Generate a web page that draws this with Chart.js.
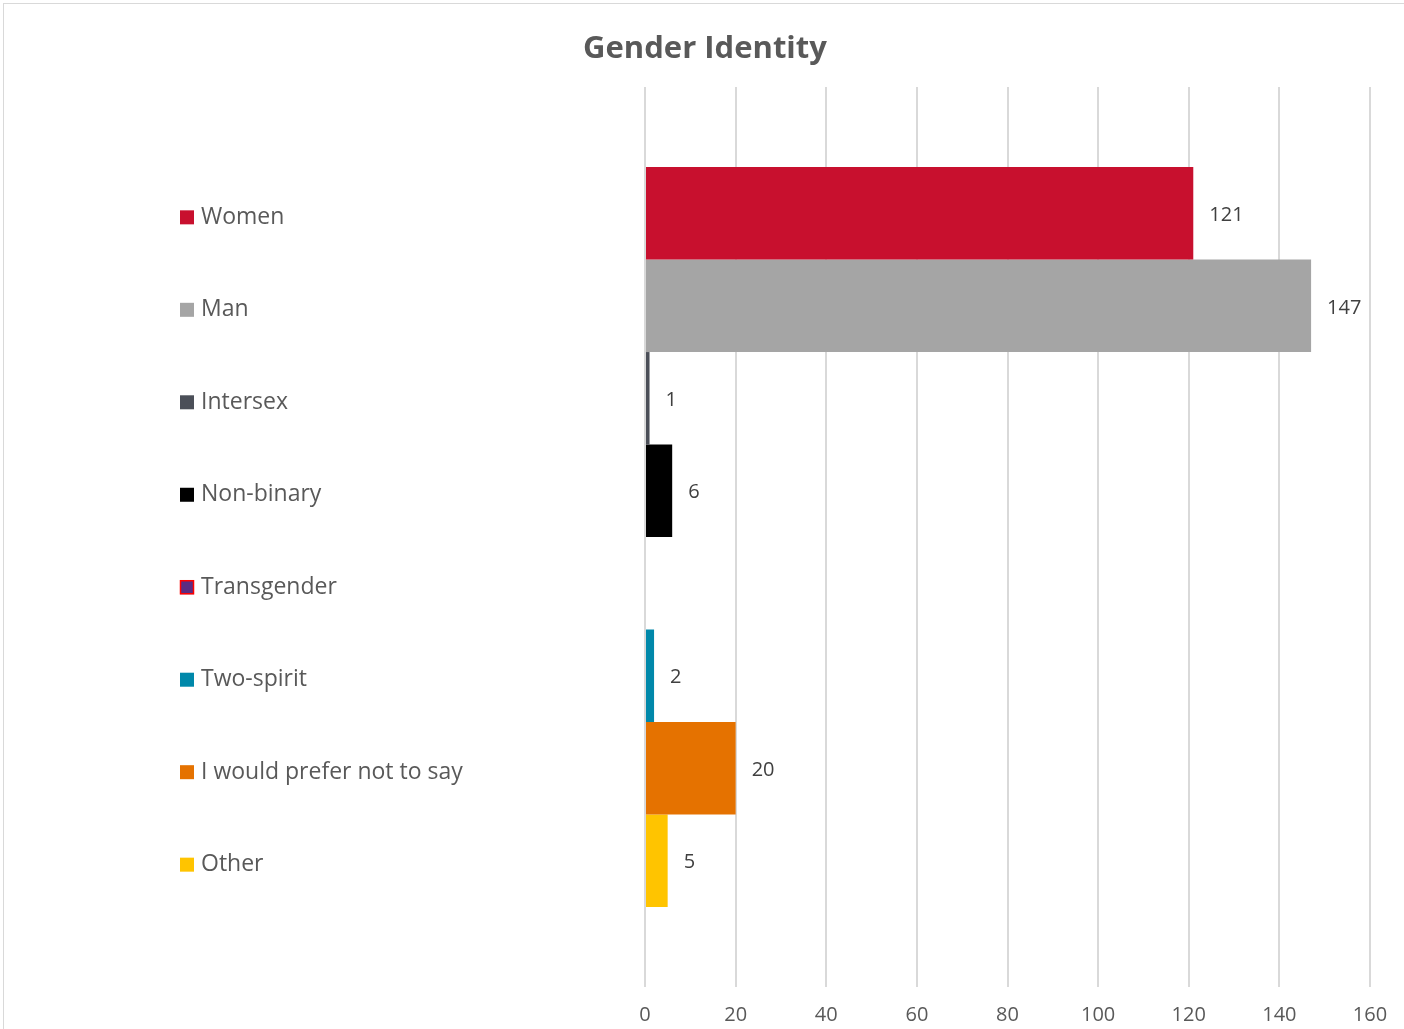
<!DOCTYPE html>
<html>
<head>
<meta charset="utf-8">
<title>Gender Identity</title>
<script src="https://cdn.jsdelivr.net/npm/chart.js@4.4.0/dist/chart.umd.min.js"></script>
<style>
  html, body { margin: 0; padding: 0; background: #fff; }
  #wrap { position: relative; width: 1404px; height: 1029px; }
</style>
</head>
<body>
<div id="wrap"><canvas id="genderChart" width="1404" height="1029"></canvas></div>
<script>
// Chart data
const chartTitle = 'Gender Identity';
const categories = ['Women', 'Man', 'Intersex', 'Non-binary', 'Transgender', 'Two-spirit', 'I would prefer not to say', 'Other'];
const counts = [121, 147, 1, 6, 0, 2, 20, 5];
const barColors = ['#C8102E', '#A5A5A5', '#4B4F58', '#000000', '#5B2C82', '#0088AA', '#E57200', '#FFC400'];
const swatchBorders = [null, null, null, null, '#FF0000', null, null, null];
const xTicks = [0, 20, 40, 60, 80, 100, 120, 140, 160];

const FONT = '"Open Sans", Lato, sans-serif';
const TEXT_GREY = '#595959';

// one dataset per category, so each gets its own row like the original
const datasets = categories.map((name, i) => ({
    label: name,
    data: [counts[i]],
    backgroundColor: barColors[i],
    borderWidth: 0,
    categoryPercentage: 0.822,
    barPercentage: 1
}));

// thin frame round the chart (only top and left edge show) + title centred on the canvas
const framePlugin = {
    id: 'frame',
    beforeDraw(chart) {
        const c = chart.ctx;
        c.save();
        c.strokeStyle = '#d9d9d9';
        c.lineWidth = 1;
        c.strokeRect(3.5, 3.5, chart.width + 10, chart.height + 10);
        c.font = 'bold 31px ' + FONT;
        c.fillStyle = TEXT_GREY;
        c.textAlign = 'center';
        c.textBaseline = 'middle';
        c.fillText(chartTitle, chart.width / 2 + 3, 49);
        c.restore();
    }
};

// value labels to the right of each bar
const valueLabels = {
    id: 'valueLabels',
    afterDatasetsDraw(chart) {
        const c = chart.ctx;
        c.save();
        c.font = '20px ' + FONT;
        c.fillStyle = '#404040';
        c.textAlign = 'left';
        c.textBaseline = 'middle';
        chart.data.datasets.forEach((ds, i) => {
            const v = ds.data[0];
            if (!v) return;
            const bar = chart.getDatasetMeta(i).data[0];
            c.fillText(String(v), bar.x + 16, bar.y + 2);
        });
        c.restore();
    }
};

// legend on the left, each entry lined up with its bar
const sideLegend = {
    id: 'sideLegend',
    afterDraw(chart) {
        const c = chart.ctx;
        c.save();
        c.font = '23px ' + FONT;
        c.textAlign = 'left';
        c.textBaseline = 'middle';
        chart.data.datasets.forEach((ds, i) => {
            const y = chart.getDatasetMeta(i).data[0].y + 4;
            c.fillStyle = barColors[i];
            c.fillRect(180, y - 7, 14, 14);
            if (swatchBorders[i]) {
                c.strokeStyle = swatchBorders[i];
                c.lineWidth = 1.5;
                c.strokeRect(180.5, y - 6.5, 13, 13);
            }
            c.fillStyle = TEXT_GREY;
            c.fillText(ds.label, 201, y);
        });
        c.restore();
    }
};

new Chart(document.getElementById('genderChart'), {
    type: 'bar',
    data: { labels: [''], datasets: datasets },
    options: {
        indexAxis: 'y',
        responsive: false,
        animation: false,
        layout: { padding: { left: 645, right: 34, top: 87, bottom: 2 } },
        plugins: {
            legend: { display: false },
            tooltip: { enabled: false },
            title: { display: false }
        },
        scales: {
            x: {
                min: xTicks[0],
                max: xTicks[xTicks.length - 1],
                afterBuildTicks: (axis) => { axis.ticks = xTicks.map(v => ({ value: v })); },
                afterFit: (axis) => { axis.height = 40; },
                grid: { color: '#d9d9d9', lineWidth: 2, drawTicks: false },
                border: { display: false },
                ticks: { color: TEXT_GREY, font: { family: FONT, size: 20 }, padding: 16 }
            },
            y: {
                display: false
            }
        }
    },
    plugins: [framePlugin, valueLabels, sideLegend]
});
</script>
</body>
</html>
